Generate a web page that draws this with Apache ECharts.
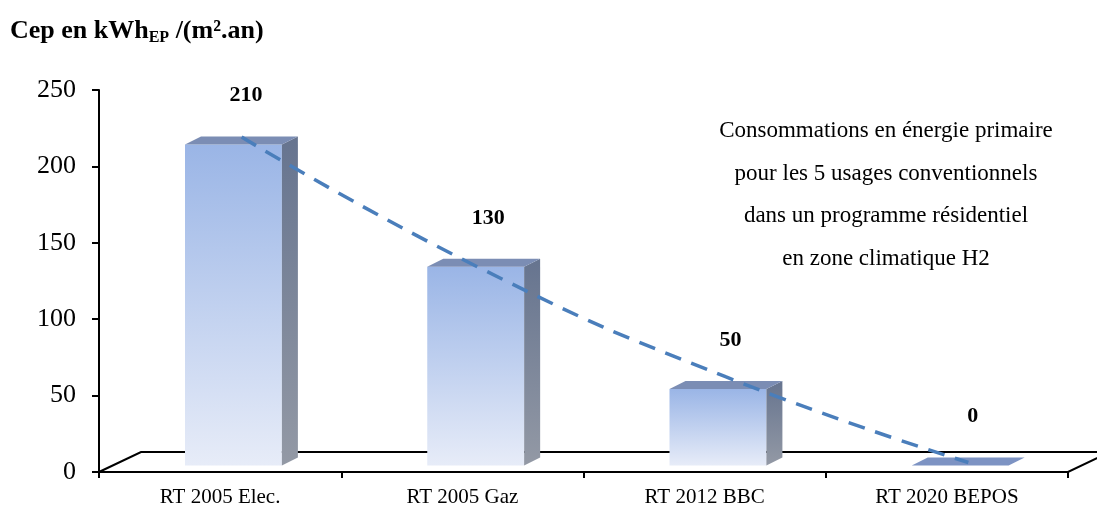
<!DOCTYPE html>
<html>
<head>
<meta charset="utf-8">
<script src="https://cdn.jsdelivr.net/npm/echarts@6/dist/echarts.min.js"></script>
<style>
  html, body { margin: 0; padding: 0; background: #ffffff; }
  #chart { width: 1097px; height: 507px; }
</style>
</head>
<body>
<div id="chart"></div>
<script>
// ---- data ----
const categories = ['RT 2005 Elec.', 'RT 2005 Gaz', 'RT 2012 BBC', 'RT 2020 BEPOS'];
const values = [210, 130, 50, 0];
const trendValues = [212, 125, 55, -1];   // dashed trend line
const yMin = 0, yMax = 250, yInterval = 50;
const noteLines = [
  'Consommations en énergie primaire',
  'pour les 5 usages conventionnels',
  'dans un programme résidentiel',
  'en zone climatique H2'
];

const SERIF = '"Liberation Serif", "Times New Roman", serif';
const chart = echarts.init(document.getElementById('chart'), null, { renderer: 'canvas' });

const DX = 16, DY = -8;   // 3D depth of bars

function renderFloor(params, api) {
  const cs = params.coordSys;
  const x0 = cs.x, x1 = cs.x + cs.width, y0 = cs.y + cs.height;
  const fdx = 42, fdy = -20;
  return {
    type: 'polygon',
    shape: { points: [[x0, y0], [x0 + fdx, y0 + fdy], [x1 + fdx, y0 + fdy], [x1, y0]] },
    style: { fill: 'none', stroke: '#000', lineWidth: 2 },
    silent: true
  };
}

function renderBar(params, api) {
  const i = api.value(0), v = api.value(1);
  const base = api.coord([i, 0]);
  const top = api.coord([i, v]);
  const bw = api.size([1, 0])[0];
  const fw = bw * 0.4;
  const cx = base[0];
  const fx0 = cx - bw * 0.145, fx1 = fx0 + fw;
  const yb = base[1] - 6.5, yt = top[1] - 6.5;
  const children = [];
  if (v > 0) {
    children.push({
      type: 'rect',
      shape: { x: fx0, y: yt, width: fw, height: yb - yt },
      style: { fill: new echarts.graphic.LinearGradient(0, 0, 0, 1, [
        { offset: 0, color: '#9ab5e6' }, { offset: 1, color: '#e7ecf8' }]) }
    });
    children.push({
      type: 'polygon',
      shape: { points: [[fx1, yt], [fx1 + DX, yt + DY], [fx1 + DX, yb + DY], [fx1, yb]] },
      style: { fill: new echarts.graphic.LinearGradient(0, 0, 0, 1, [
        { offset: 0, color: '#66748f' }, { offset: 1, color: '#9399a5' }]) }
    });
  }
  children.push({
    type: 'polygon',
    shape: { points: [[fx0, yt], [fx0 + DX, yt + DY], [fx1 + DX, yt + DY], [fx1, yt]] },
    style: { fill: v > 0 ? '#7b8db4' : '#7d93c3' }
  });
  children.push({
    type: 'text',
    x: cx + bw * 0.107, y: yt - 49,
    style: { text: String(v), textAlign: 'center', textVerticalAlign: 'middle',
      font: 'bold 22px ' + SERIF, fill: '#000' }
  });
  return { type: 'group', children };
}

const option = {
  backgroundColor: '#ffffff',
  animation: false,
  title: {
    left: 5, top: 11,
    text: '{b|Cep en kWh}{s|EP}{b| /(m².an)}',
    textStyle: {
      rich: {
        b: { fontFamily: SERIF, fontWeight: 'bold', fontSize: 26, color: '#000', lineHeight: 30 },
        s: { fontFamily: SERIF, fontWeight: 'bold', fontSize: 16, color: '#000', lineHeight: 16, padding: [13, 0, 0, 0] }
      }
    }
  },
  grid: [
    { left: 99, right: 29, top: 90, bottom: 35, outerBoundsMode: 'none', containLabel: false },
    { left: 120.5, right: 7.5, top: 79, bottom: 46, outerBoundsMode: 'none', containLabel: false }
  ],
  xAxis: [
    {
      type: 'category', data: categories, gridIndex: 0, boundaryGap: true,
      axisLine: { lineStyle: { color: '#000', width: 2 } },
      axisTick: { show: true, alignWithLabel: false, length: 6, lineStyle: { color: '#000', width: 2 } },
      axisLabel: { fontFamily: SERIF, fontSize: 21, color: '#000', margin: 15 },
      splitLine: { show: false }
    },
    { type: 'category', data: categories, gridIndex: 1, boundaryGap: true, show: false }
  ],
  yAxis: [
    {
      type: 'value', gridIndex: 0, min: yMin, max: yMax, interval: yInterval,
      axisLine: { show: true, lineStyle: { color: '#000', width: 2 } },
      axisTick: { show: true, length: 7, lineStyle: { color: '#000', width: 2 } },
      axisLabel: { fontFamily: SERIF, fontSize: 26, color: '#000', margin: 23 },
      splitLine: { show: false }
    },
    { type: 'value', gridIndex: 1, min: yMin, max: yMax, interval: yInterval, show: false }
  ],
  series: [
    {
      type: 'custom', name: 'floor', xAxisIndex: 0, yAxisIndex: 0, z: 1,
      renderItem: renderFloor, data: [[0, 0]], silent: true
    },
    {
      type: 'custom', name: 'Cep', xAxisIndex: 0, yAxisIndex: 0, z: 2,
      renderItem: renderBar,
      data: values.map((v, i) => [i, v])
    },
    {
      type: 'line', name: 'Tendance', xAxisIndex: 1, yAxisIndex: 1, z: 5,
      data: trendValues, smooth: true, symbol: 'none', clip: false,
      lineStyle: { color: '#4a7ebb', width: 3.5, type: [17, 11] }
    }
  ],
  graphic: [
    {
      type: 'text', x: 886, y: 110, z: 10,
      style: {
        text: noteLines.join('\n'), textAlign: 'center', textVerticalAlign: 'top',
        font: '23px ' + SERIF, fill: '#000', lineHeight: 42.5
      }
    }
  ]
};
chart.setOption(option);
</script>
</body>
</html>
